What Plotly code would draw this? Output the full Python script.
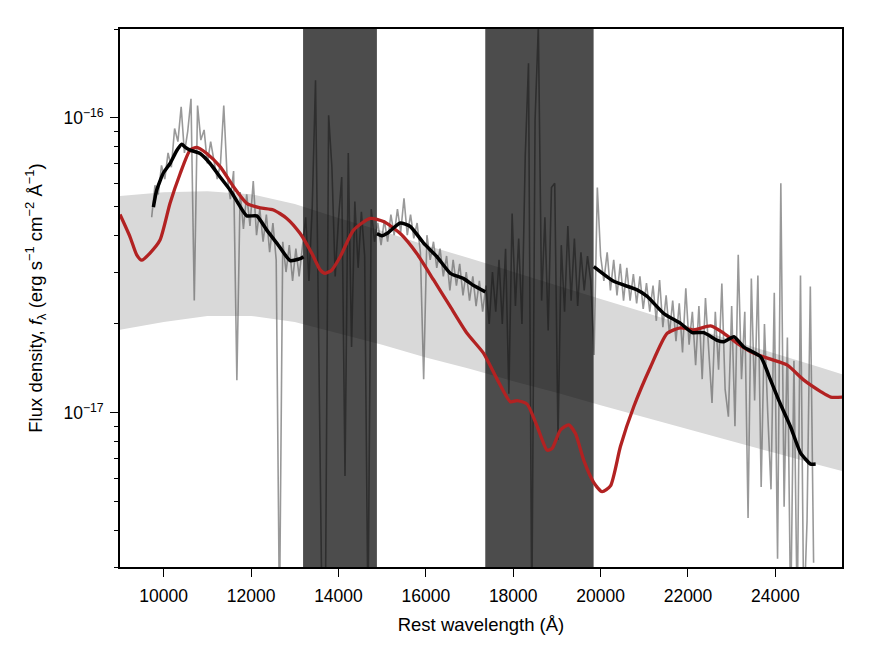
import numpy as np
import plotly.graph_objects as go

SCALE = 1e-17  # all flux lists below are in units of 1e-17 erg/s/cm^2/A

# Observed spectrum (grey)
spec_wave = [9725, 9800, 9875, 9950, 10025, 10100, 10175, 10250, 10325, 10400,
             10475, 10550, 10625, 10700, 10775, 10850, 10925, 11000, 11075, 11150,
             11225, 11300, 11375, 11450, 11525, 11600, 11675, 11750, 11825, 11900,
             11975, 12050, 12125, 12200, 12275, 12350, 12425, 12500, 12575, 12650,
             12725, 12800, 12875, 12950, 13025, 13100, 13175, 13250, 13325, 13400,
             13475, 13550, 13625, 13700, 13775, 13850, 13925, 14000, 14075, 14150,
             14225, 14300, 14375, 14450, 14525, 14600, 14675, 14750, 14825, 14900,
             14975, 15050, 15125, 15200, 15275, 15350, 15425, 15500, 15575, 15650,
             15725, 15800, 15875, 15950, 16025, 16100, 16175, 16250, 16325, 16400,
             16475, 16550, 16625, 16700, 16775, 16850, 16925, 17000, 17075, 17150,
             17225, 17300, 17375, 17450, 17525, 17600, 17675, 17750, 17825, 17900,
             17975, 18050, 18125, 18200, 18275, 18350, 18425, 18500, 18575, 18650,
             18725, 18800, 18875, 18950, 19025, 19100, 19175, 19250, 19325, 19400,
             19475, 19550, 19625, 19700, 19775, 19850, 19925, 20000, 20075, 20150,
             20225, 20300, 20375, 20450, 20525, 20600, 20675, 20750, 20825, 20900,
             20975, 21050, 21125, 21200, 21275, 21350, 21425, 21500, 21575, 21650,
             21725, 21800, 21875, 21950, 22025, 22100, 22175, 22250, 22325, 22400,
             22475, 22550, 22625, 22700, 22775, 22850, 22925, 23000, 23075, 23150,
             23225, 23300, 23375, 23450, 23525, 23600, 23675, 23750, 23825, 23900,
             23975, 24050, 24125, 24200, 24275, 24350, 24425, 24500, 24575, 24650,
             24725, 24800, 24875]
spec_flux = [4.6, 5.9, 5.5, 6.9, 6.2, 7.6, 6.8, 9.2, 8.3, 10.9,
             7.6, 9.0, 11.6, 2.4, 11.0, 8.4, 9.1, 7.0, 8.3, 7.1,
             6.2, 7.0, 11.0, 6.4, 5.3, 6.6, 1.29, 5.6, 4.2, 5.5,
             4.3, 6.1, 4.0, 4.9, 3.8, 4.7, 3.5, 4.4, 3.3, 0.2,
             3.8, 3.0, 3.7, 2.8, 3.6, 2.9, 3.7, 4.6, 2.8, 5.0,
             13.4, 1.8, 0.2, 0.2, 10.2, 6.8, 2.9, 4.5, 6.3, 0.61,
             7.6, 1.67, 5.2, 3.1, 4.8, 3.4, 0.2, 4.9, 3.8, 4.4,
             3.7, 4.5, 3.8, 4.7, 4.0, 4.9, 4.1, 5.33, 4.0, 4.7,
             3.9, 4.4, 3.5, 1.3, 4.0, 3.3, 3.8, 3.1, 3.6, 2.9,
             3.4, 2.6, 3.3, 2.7, 3.2, 2.5, 3.0, 2.4, 2.9, 2.3,
             2.8, 2.2, 2.7, 2.0, 3.0, 2.2, 3.3, 2.0, 3.6, 1.16,
             4.74, 2.3, 3.9, 2.0, 7.4, 15.3, 0.2, 9.8, 20.5, 2.4,
             4.6, 1.9, 5.8, 6.0, 0.81, 3.7, 2.2, 4.3, 2.4, 3.9,
             2.3, 3.5, 2.6, 3.4, 2.8, 1.57, 5.8, 3.4, 2.8, 3.5,
             2.6, 3.3, 2.5, 3.2, 2.4, 3.1, 2.4, 2.95, 2.35, 2.9,
             2.25, 2.75, 2.2, 2.7, 2.05, 2.82, 1.95, 2.5, 1.85, 2.4,
             1.75, 2.35, 1.6, 2.64, 1.7, 2.2, 1.45, 2.3, 1.3, 2.45,
             1.6, 1.08, 2.2, 1.4, 2.74, 1.2, 0.97, 2.3, 0.9, 3.43,
             1.3, 2.2, 0.44, 2.85, 1.1, 2.92, 0.56, 2.0, 1.0, 0.55,
             2.55, 0.32, 6.0, 0.48, 1.8, 0.2, 1.5, 0.2, 2.92, 0.2,
             0.43, 2.68, 0.31]

# Smoothed spectrum (black), three segments outside telluric windows
smooth1_wave = [9764, 9840, 9992, 10145, 10300, 10413, 10489, 10604, 10833, 11062,
                11291, 11520, 11749, 11902, 12131, 12360, 12589, 12895, 13124, 13200]
smooth1_flux = [4.98, 5.69, 6.5, 7.0, 7.75, 8.14, 7.95, 7.77, 7.57, 7.0,
                6.3, 5.69, 5.0, 4.65, 4.65, 4.16, 3.76, 3.28, 3.33, 3.38]
smooth2_wave = [14880, 15000, 15109, 15415, 15644, 15949, 16255, 16560, 16865, 17094, 17362]
smooth2_flux = [4.05, 3.98, 4.05, 4.40, 4.28, 3.76, 3.38, 2.97, 2.85, 2.70, 2.57]
smooth3_wave = [19844, 20302, 20836, 21066, 21447, 21829, 22096, 22363, 22669, 22821,
                23050, 23279, 23661, 23891, 24081, 24349, 24578, 24807, 24922]
smooth3_flux = [3.13, 2.79, 2.61, 2.48, 2.17, 2.01, 1.87, 1.87, 1.76, 1.74,
                1.81, 1.67, 1.55, 1.29, 1.10, 0.895, 0.73, 0.67, 0.67]

# Model spectrum (red)
model_wave = [9000, 9229, 9382, 9497, 9687, 9916, 10145, 10374, 10604, 10757,
              10986, 11291, 11597, 11902, 12207, 12512, 12818, 13124, 13400, 13582,
              13697, 13850, 14040, 14345, 14727, 15032, 15415, 15797, 16178, 16560,
              16943, 17323, 17630, 17934, 18088, 18317, 18546, 18775, 18889, 19080,
              19271, 19424, 19615, 19844, 20035, 20226, 20455, 20760, 21142, 21524,
              21829, 22134, 22517, 22821, 23127, 23509, 23891, 24273, 24654, 25037,
              25266, 25534]
model_flux = [4.7, 3.95, 3.43, 3.29, 3.48, 3.85, 5.13, 6.45, 7.77, 7.94,
              7.57, 6.83, 5.84, 5.13, 4.95, 4.87, 4.56, 4.05, 3.45, 3.05,
              2.97, 3.05, 3.38, 4.16, 4.56, 4.45, 4.05, 3.46, 2.82, 2.29,
              1.86, 1.59, 1.30, 1.09, 1.10, 1.07, 0.90, 0.747, 0.756, 0.874,
              0.91, 0.85, 0.69, 0.58, 0.54, 0.565, 0.77, 1.05, 1.43, 1.86,
              1.94, 1.91, 1.97, 1.86, 1.72, 1.59, 1.52, 1.45, 1.29, 1.18,
              1.13, 1.13]

# Uncertainty envelope (light grey)
env_wave = [9000, 10000, 11000, 12000, 13000, 14000, 15000, 16000, 17000, 18000,
            19000, 20000, 21000, 22000, 23000, 24000, 25000, 25600]
env_upper = [5.43, 5.59, 5.64, 5.51, 5.10, 4.57, 4.13, 3.70, 3.34, 3.00,
             2.71, 2.43, 2.19, 1.97, 1.76, 1.59, 1.43, 1.34]
env_lower = [1.91, 2.03, 2.13, 2.13, 2.03, 1.86, 1.70, 1.54, 1.41, 1.28,
             1.17, 1.06, 0.967, 0.88, 0.80, 0.73, 0.665, 0.63]

# Telluric windows
telluric_lo = [13190, 17360]
telluric_hi = [14880, 19840]

# Axis settings
x_range = [9000, 25525]
y_limits = [3e-18, 2e-16]
x_ticks = [10000, 12000, 14000, 16000, 18000, 20000, 22000, 24000]
x_tick_text = ["10000", "12000", "14000", "16000", "18000", "20000", "22000", "24000"]
y_major = [1e-17, 1e-16]
y_major_text = ["10<sup>−17</sup>", "10<sup>−16</sup>"]


def sc(vals):
    return [v * SCALE for v in vals]


fig = go.Figure()

# envelope
fig.add_trace(go.Scatter(x=env_wave, y=sc(env_lower), mode="lines",
                         line=dict(width=0, color="rgba(0,0,0,0)"), hoverinfo="skip"))
fig.add_trace(go.Scatter(x=env_wave, y=sc(env_upper), mode="lines", fill="tonexty",
                         fillcolor="#d9d9d9", line=dict(width=0, color="rgba(0,0,0,0)"),
                         hoverinfo="skip"))

# observed spectrum
fig.add_trace(go.Scatter(x=spec_wave, y=sc(spec_flux), mode="lines",
                         line=dict(color="rgba(90,90,90,0.62)", width=1.6)))

# telluric windows
for lo, hi in zip(telluric_lo, telluric_hi):
    fig.add_trace(go.Scatter(x=[lo, hi, hi, lo, lo],
                             y=[y_limits[0], y_limits[0], y_limits[1], y_limits[1], y_limits[0]],
                             mode="lines", fill="toself", fillcolor="rgba(0,0,0,0.70)",
                             line=dict(width=0, color="rgba(0,0,0,0)"), hoverinfo="skip"))

# model
fig.add_trace(go.Scatter(x=model_wave, y=sc(model_flux), mode="lines",
                         line=dict(color="#b22222", width=3.3, shape="spline", smoothing=0.6)))

# smoothed spectrum
sm_x = smooth1_wave + [None] + smooth2_wave + [None] + smooth3_wave
sm_y = sc(smooth1_flux) + [None] + sc(smooth2_flux) + [None] + sc(smooth3_flux)
fig.add_trace(go.Scatter(x=sm_x, y=sm_y, mode="lines", connectgaps=False,
                         line=dict(color="black", width=3.5, shape="spline", smoothing=0.5)))

minor_vals = [m * 10.0 ** e for e in (-18, -17) for m in range(2, 10)] + [2e-16]
minor_vals = [v for v in minor_vals if v >= y_limits[0]]

font_family = "Liberation Sans, Arial, Helvetica, sans-serif"

fig.update_layout(
    width=872, height=659,
    margin=dict(l=112, r=38, t=21, b=100),
    plot_bgcolor="white", paper_bgcolor="white",
    showlegend=False,
    font=dict(family=font_family, size=18, color="black"),
    xaxis=dict(
        range=x_range, tickmode="array", tickvals=x_ticks, ticktext=x_tick_text,
        ticks="outside", ticklen=8, tickwidth=1.3, tickcolor="black",
        ticklabelstandoff=4,
        showline=True, linecolor="black", linewidth=1.6, mirror=True,
        showgrid=False, zeroline=False,
        tickfont=dict(size=17.5),
        title=dict(text="Rest wavelength (Å)", font=dict(size=18.5), standoff=13),
    ),
    yaxis=dict(
        type="log", range=[np.log10(y_limits[0]), np.log10(y_limits[1])],
        tickmode="array", tickvals=y_major, ticktext=y_major_text,
        ticks="outside", ticklen=8, tickwidth=1.3, tickcolor="black",
        ticklabelstandoff=3,
        minor=dict(tickmode="array", tickvals=minor_vals, ticks="outside",
                   ticklen=4.5, tickwidth=1.1, tickcolor="black", showgrid=False),
        showline=True, linecolor="black", linewidth=1.6, mirror=True,
        showgrid=False, zeroline=False,
        tickfont=dict(size=17.5),
        title=dict(text="Flux density, <i>f</i><sub>λ</sub> (erg s<sup>−1</sup> cm<sup>−2</sup> Å<sup>−1</sup>)",
                   font=dict(size=18.5), standoff=16),
    ),
)

fig.write_html("out.html")
